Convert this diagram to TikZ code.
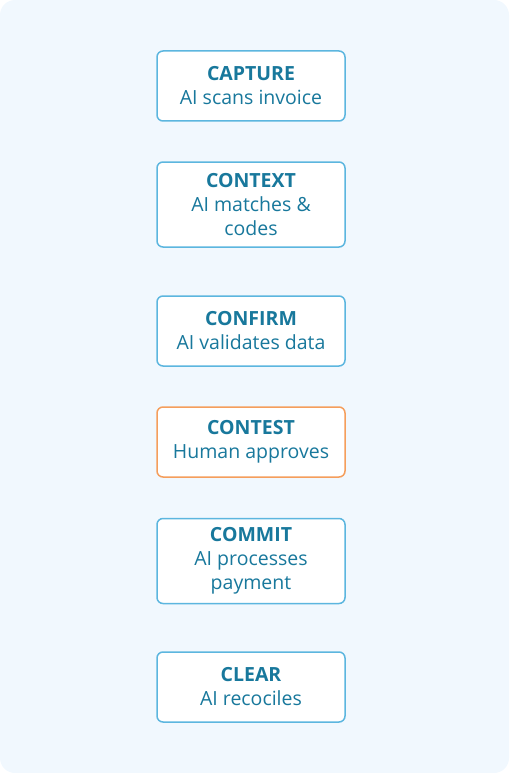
\documentclass[tikz,border=0pt]{standalone}
\usepackage{fontspec}
\setmainfont{Open Sans}
\usepackage{xcolor}
\usetikzlibrary{positioning}

\definecolor{bgblue}{HTML}{F1F8FE}
\definecolor{stepline}{HTML}{5CB6DF}
\definecolor{humanline}{HTML}{F59E5C}
\definecolor{steptext}{HTML}{18789C}

\tikzset{
  stepbox/.style={rectangle,draw=stepline,line width=1.5pt,fill=white,rounded corners=6pt,
    minimum width=188pt,align=center,text=steptext,font=\fontsize{19.5}{24}\selectfont},
  humanbox/.style={stepbox,draw=humanline}
}

\begin{document}
\begin{tikzpicture}[x=1pt,y=-1pt]
    % Background panel
    \fill[bgblue,rounded corners=15pt] (0,0) rectangle (509,773);
    \useasboundingbox (0,0) rectangle (509,773);

    % Steps
    \node[stepbox,minimum height=70pt] (capture) at (251,86) {\textbf{CAPTURE}\\AI scans invoice};
    \node[stepbox,minimum height=85pt] (context) at (251,204.5) {\textbf{CONTEXT}\\AI matches \&\\codes};
    \node[stepbox,minimum height=70pt] (confirm) at (251,331) {\textbf{CONFIRM}\\AI validates data};
    \node[humanbox,minimum height=70pt] (contest) at (251,442) {\textbf{CONTEST}\\Human approves};
    \node[stepbox,minimum height=85pt] (commit) at (251,561) {\textbf{COMMIT}\\AI processes\\payment};
    \node[stepbox,minimum height=70pt] (clear) at (251,687) {\textbf{CLEAR}\\AI recociles};
\end{tikzpicture}
\end{document}
